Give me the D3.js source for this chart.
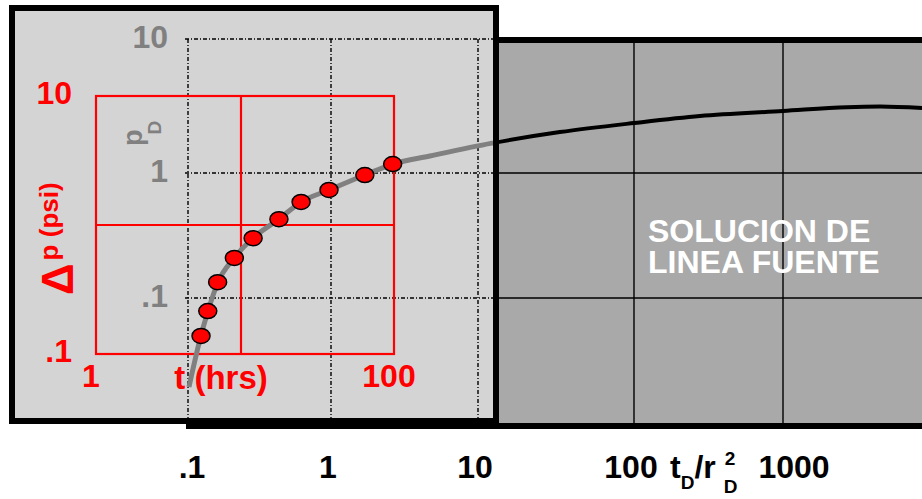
<!DOCTYPE html>
<html>
<head>
<meta charset="utf-8">
<script src="https://cdn.jsdelivr.net/npm/d3@7"></script>
<style>
  body { margin: 0; background: #fff; }
  svg { display: block; }
  text { font-family: "Liberation Sans", Arial, Helvetica, sans-serif; font-weight: bold; }
</style>
</head>
<body>
<svg id="chart" width="922" height="499"></svg>
<script>
// Line-source (Theis) type curve: dimensionless pressure pD against tD/rD²
const typeCurveTime = [0.1016, 0.123, 0.138, 0.162, 0.21, 0.285, 0.433, 0.617, 0.968, 1.7, 2.64, 4.71, 12.3, 33.5, 100, 277, 1000, 2690, 4480, 8570];
const typeCurvePD   = [0.0194, 0.0497, 0.0787, 0.134, 0.209, 0.302, 0.429, 0.586, 0.731, 0.964, 1.167, 1.34, 1.67, 2.02, 2.36, 2.66, 2.9, 3.1, 3.13, 3.05];

// Field test data: pressure change (psi) against time (hrs)
const fieldTime   = [5.3, 5.9, 6.9, 9.0, 12, 17.7, 24.7, 37.6, 64.5, 98];
const fieldDeltaP = [0.138, 0.215, 0.36, 0.555, 0.79, 1.11, 1.51, 1.87, 2.44, 2.97];

// Tick values and labels
const dimTimeTicks  = [0.1, 1, 10, 100, 1000];
const dimTimeLabels = [".1", "1", "10", "100", "1000"];
const pdTicks       = [10, 1, 0.1];
const pdLabels      = ["10", "1", ".1"];
const hrsTicks      = [1, 10, 100];
const hrsLabels     = ["1", "", "100"];
const psiTicks      = [10, 1, 0.1];
const psiLabels     = ["10", "", ".1"];

const svg = d3.select("#chart");

// Log scales (log-log paper, decades slightly uneven on the printed sheet)
const xD = d3.scaleLog().domain([0.1, 1, 10, 100, 1000]).range([188, 331, 478, 634, 783]);
const yD = d3.scaleLog().domain([10, 1, 0.1, 0.01]).range([39, 173, 298, 423]);
const xT = d3.scaleLog().domain([1, 10, 100]).range([96, 241, 394]);
const yP = d3.scaleLog().domain([10, 1, 0.1]).range([96, 225, 354]);

const curvePts = typeCurveTime.map((t, i) => [t, typeCurvePD[i]]);
const line = d3.line().x(d => xD(d[0])).y(d => yD(d[1])).curve(d3.curveMonotoneX);

// Type-curve sheet (dark)
const dark = { x0: xD(0.1) + 1, y0: yD(10) + 1, y1: yD(0.01) + 3 };
svg.append("rect")
  .attr("x", dark.x0).attr("y", dark.y0)
  .attr("width", 940 - dark.x0).attr("height", dark.y1 - dark.y0)
  .attr("fill", "#a9a9a9").attr("stroke", "#000").attr("stroke-width", 6);

const darkGrid = svg.append("g").attr("stroke", "#000").attr("stroke-width", 1.4);
darkGrid.selectAll("line.v").data(dimTimeTicks.slice(1)).join("line")
  .attr("x1", d => xD(d)).attr("x2", d => xD(d))
  .attr("y1", dark.y0 + 3).attr("y2", dark.y1 - 3);
darkGrid.selectAll("line.h").data(pdTicks.slice(1)).join("line")
  .attr("x1", dark.x0 + 3).attr("x2", 922)
  .attr("y1", d => yD(d)).attr("y2", d => yD(d));

// Type curve (black where seen directly)
svg.append("path").attr("d", line(curvePts))
  .attr("fill", "none").attr("stroke", "#000").attr("stroke-width", 4);

// Overlay sheet (light)
const light = { x: 12, y: 8, w: 484, h: 413 };
svg.append("rect").attr("x", light.x).attr("y", light.y)
  .attr("width", light.w).attr("height", light.h).attr("fill", "#d4d4d4");

svg.append("clipPath").attr("id", "lightClip").append("rect")
  .attr("x", light.x + 3).attr("y", light.y + 3)
  .attr("width", light.w - 6).attr("height", light.h - 6);

// Dimensionless grid traced on the overlay (dash-dot)
const dash = "4,2,1,2";
const dimGrid = svg.append("g").attr("stroke", "#000").attr("stroke-width", 1.4)
  .attr("stroke-dasharray", dash).attr("fill", "none");
dimGrid.selectAll("line.v").data([0.1, 1, 10]).join("line")
  .attr("x1", d => xD(d)).attr("x2", d => xD(d))
  .attr("y1", yD(10)).attr("y2", light.y + light.h - 3);
dimGrid.selectAll("line.h").data(pdTicks).join("line")
  .attr("x1", xD(0.1) - 3).attr("x2", light.x + light.w - 3)
  .attr("y1", d => yD(d)).attr("y2", d => yD(d));

// Field-data grid (red)
const red = "#ff0000";
const redGrid = svg.append("g").attr("stroke", red).attr("stroke-width", 2.2).attr("fill", "none");
redGrid.append("rect")
  .attr("x", xT(1)).attr("y", yP(10))
  .attr("width", xT(100) - xT(1)).attr("height", yP(0.1) - yP(10));
redGrid.append("line").attr("x1", xT(10)).attr("x2", xT(10)).attr("y1", yP(10)).attr("y2", yP(0.1));
redGrid.append("line").attr("x1", xT(1)).attr("x2", xT(100)).attr("y1", yP(1)).attr("y2", yP(1));

// Type curve seen through the overlay (grey)
svg.append("path").attr("d", line(curvePts))
  .attr("clip-path", "url(#lightClip)")
  .attr("fill", "none").attr("stroke", "#808080").attr("stroke-width", 5);

// Field data points
svg.append("g").selectAll("ellipse")
  .data(fieldTime.map((t, i) => [t, fieldDeltaP[i]]))
  .join("ellipse")
  .attr("cx", d => xT(d[0])).attr("cy", d => yP(d[1]))
  .attr("rx", 9).attr("ry", 7.5)
  .attr("fill", red).attr("stroke", "#000").attr("stroke-width", 1.5);

// Overlay border
svg.append("rect").attr("x", light.x).attr("y", light.y)
  .attr("width", light.w).attr("height", light.h)
  .attr("fill", "none").attr("stroke", "#000").attr("stroke-width", 6);

// Red axis labels
svg.append("g").selectAll("text").data(psiTicks.filter((d, i) => psiLabels[i])).join("text")
  .attr("x", 72).attr("y", d => yP(d) - 3).attr("dy", "0.35em")
  .attr("text-anchor", "end").attr("font-size", 32).attr("fill", red)
  .text(d => psiLabels[psiTicks.indexOf(d)]);
svg.append("g").selectAll("text").data(hrsTicks.filter((d, i) => hrsLabels[i])).join("text")
  .attr("x", d => xT(d) - 5).attr("y", 387)
  .attr("text-anchor", "middle").attr("font-size", 32).attr("fill", red)
  .text(d => hrsLabels[hrsTicks.indexOf(d)]);
svg.append("text").attr("x", 221).attr("y", 389)
  .attr("text-anchor", "middle").attr("font-size", 33).attr("fill", red)
  .text("t (hrs)");
const dpTitle = svg.append("text").attr("transform", "translate(73,295) rotate(-90)").attr("fill", red);
dpTitle.append("tspan").attr("font-size", 44).text("\u0394");
dpTitle.append("tspan").attr("font-size", 26).attr("dx", 3).attr("dy", -15).text("p (psi)");

// Grey pD labels
const grey = "#808080";
svg.append("g").selectAll("text").data(pdTicks).join("text")
  .attr("x", 168).attr("y", d => yD(d) - 2).attr("dy", "0.35em")
  .attr("text-anchor", "end").attr("font-size", 32).attr("fill", grey)
  .text((d, i) => pdLabels[i]);
const pdTitle = svg.append("text").attr("transform", "translate(142,146) rotate(-90)").attr("fill", grey);
pdTitle.append("tspan").attr("font-size", 27).text("p");
pdTitle.append("tspan").attr("font-size", 19).attr("dx", -5).attr("dy", 19).text("D");

// Type-curve caption
const cap = svg.append("text").attr("x", 648).attr("y", 242)
  .attr("font-size", 32).attr("fill", "#fff");
cap.append("tspan").text("SOLUCION DE");
cap.append("tspan").attr("x", 648).attr("dy", 31).text("LINEA FUENTE");

// Bottom axis: tD/rD²
const baseY = 478;
const bottom = svg.append("g").attr("font-size", 32).attr("fill", "#000");
bottom.selectAll("text").data(dimTimeTicks.slice(0, 4)).join("text")
  .attr("x", (d, i) => xD(d) + (i === 0 ? 4 : -3)).attr("y", baseY).attr("text-anchor", "middle")
  .text((d, i) => dimTimeLabels[i]);

const title = svg.append("g").attr("fill", "#000");
let tx = 670;
function part(str, size, dy) {
  const t = title.append("text").attr("x", tx).attr("y", baseY + dy).attr("font-size", size).text(str);
  tx += t.node().getComputedTextLength();
  return t;
}
part("t", 32, 0);
part("D", 19, 11);
part("/", 32, 0);
part("r", 32, 0);
tx += 9;
title.append("text").attr("x", tx).attr("y", baseY - 13).attr("font-size", 19).text("2");
const sub = title.append("text").attr("x", tx - 1).attr("y", baseY + 15).attr("font-size", 19).text("D");
const titleEnd = tx + sub.node().getComputedTextLength();

bottom.append("text").attr("x", titleEnd + 20).attr("y", baseY)
  .text(dimTimeLabels[4]);
</script>
</body>
</html>
